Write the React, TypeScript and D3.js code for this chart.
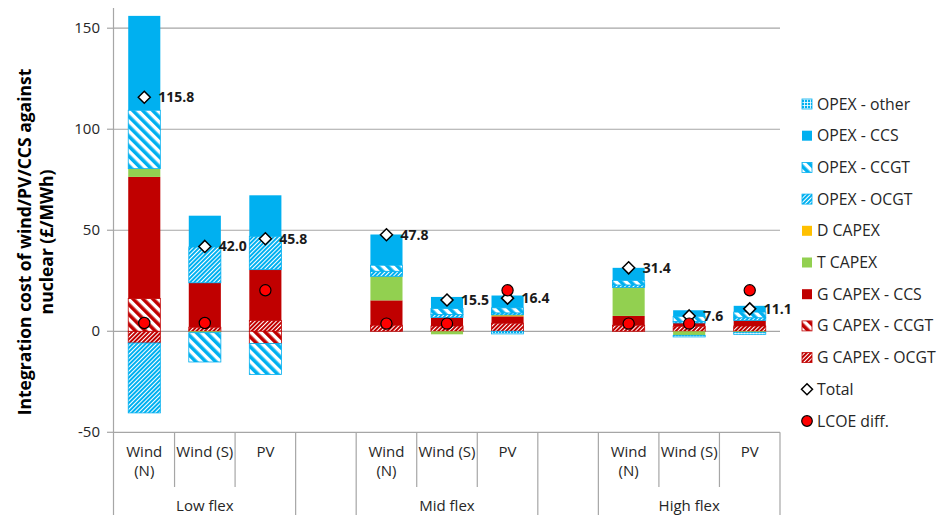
import React, { useMemo } from 'react';
import * as d3 from 'd3';

// slots: 3 groups of 3 bars with an empty slot between groups
const categories = ['Wind (N)', 'Wind (S)', 'PV', '', 'Wind (N)', 'Wind (S)', 'PV', '', 'Wind (N)', 'Wind (S)', 'PV'];
const groups = [
  { name: 'Low flex', from: 0, to: 2 },
  { name: '', from: 3, to: 3 },
  { name: 'Mid flex', from: 4, to: 6 },
  { name: '', from: 7, to: 7 },
  { name: 'High flex', from: 8, to: 10 },
];

// stacked series, bottom-up order
const gCapexOcgt = [-5.8, 2.0, 5.4, 0, 3.0, 2.6, 4.0, 0, 3.0, 2.5, 2.6];
const gCapexCcgt = [16.2, 0, -6.1, 0, 0, 0, 0, 0, 0, 0, 0];
const gCapexCcs = [60.2, 22.0, 25.1, 0, 12.3, 4.2, 3.4, 0, 4.6, 1.6, 2.8];
const tCapex = [4.1, -0.7, 0, 0, 11.9, -1.5, 0, 0, 13.8, -2.0, -0.5];
const dCapex = [0, 0, 0, 0, 0, 0, 0.7, 0, 0.3, 0, 0];
const opexOcgt = [-34.6, 17.7, 16.5, 0, 2.5, 1.5, 1.0, 0, 1.2, 0.8, 1.3];
const opexCcgt = [28.9, -14.5, -15.3, 0, 3.0, 3.0, 2.5, 0, 2.3, 2.5, 2.8];
const opexCcs = [46.7, 15.5, 20.3, 0, 15.2, 5.7, 6.1, 0, 6.2, 3.0, 3.1];
const opexOther = [0, 0, 0, 0, 0, 0, -1.3, 0, 0, -0.8, -1.0];

const totals = [115.8, 42.0, 45.8, null, 47.8, 15.5, 16.4, null, 31.4, 7.6, 11.1];
const lcoeDiff = [4.1, 4.1, 20.3, null, 3.8, 3.8, 20.3, null, 3.8, 3.8, 20.3];

const yTicks = [-50, 0, 50, 100, 150];

const BLUE = '#00B0F0';
const RED = '#C00000';
const GREEN = '#92D050';
const ORANGE = '#FFC000';
const TXT = '#262626';

const seriesDefs = [
  { key: 'G CAPEX - OCGT', values: gCapexOcgt, fill: 'url(#narrowRed)', color: RED },
  { key: 'G CAPEX - CCGT', values: gCapexCcgt, fill: 'url(#wideRed)', color: RED },
  { key: 'G CAPEX - CCS', values: gCapexCcs, fill: RED, color: RED },
  { key: 'T CAPEX', values: tCapex, fill: GREEN, color: GREEN },
  { key: 'D CAPEX', values: dCapex, fill: ORANGE, color: ORANGE },
  { key: 'OPEX - OCGT', values: opexOcgt, fill: 'url(#narrowBlue)', color: BLUE },
  { key: 'OPEX - CCGT', values: opexCcgt, fill: 'url(#wideBlue)', color: BLUE },
  { key: 'OPEX - CCS', values: opexCcs, fill: BLUE, color: BLUE },
  { key: 'OPEX - other', values: opexOther, fill: 'url(#gridBlue)', color: BLUE },
];

const W = 938;
const H = 515;
const left = 114;
const right = 780;
const FONT = '"Open Sans", sans-serif';

const App = () => {
  const x = d3.scaleBand<number>().domain(d3.range(categories.length)).range([left, right]).padding(0);
  const y = d3.scaleLinear().domain([-50, 160]).range([432.3, 8]);
  const bw = x.bandwidth() * 0.53;
  const cx = (i: number) => (x(i) as number) + x.bandwidth() / 2;

  const stacked = useMemo(() => {
    const rows = categories.map((_, i) => {
      const r: Record<string, number> = {};
      seriesDefs.forEach((s) => (r[s.key] = s.values[i]));
      return r;
    });
    return d3
      .stack<Record<string, number>>()
      .keys(seriesDefs.map((s) => s.key))
      .offset(d3.stackOffsetDiverging)(rows);
  }, []);

  const legendItems = [...seriesDefs].reverse();
  const legendY = (k: number) => 104 + k * 31.7;
  const diamond = (px: number, py: number, r: number) => `M${px},${py - r}L${px + r},${py}L${px},${py + r}L${px - r},${py}Z`;

  return (
    <svg width={W} height={H} style={{ position: 'absolute', left: 0, top: 0, background: '#fff' }}>
      <defs>
        <pattern id="wideBlue" patternUnits="userSpaceOnUse" width="7" height="7" patternTransform="rotate(-45)">
          <rect width="7" height="7" fill="#fff" />
          <rect width="3.6" height="7" fill={BLUE} />
        </pattern>
        <pattern id="narrowBlue" patternUnits="userSpaceOnUse" width="3" height="3" patternTransform="rotate(45)">
          <rect width="3" height="3" fill="#fff" />
          <rect width="2" height="3" fill={BLUE} />
        </pattern>
        <pattern id="wideRed" patternUnits="userSpaceOnUse" width="7" height="7" patternTransform="rotate(-45)">
          <rect width="7" height="7" fill="#fff" />
          <rect width="3.6" height="7" fill={RED} />
        </pattern>
        <pattern id="narrowRed" patternUnits="userSpaceOnUse" width="3" height="3" patternTransform="rotate(45)">
          <rect width="3" height="3" fill="#fff" />
          <rect width="2" height="3" fill={RED} />
        </pattern>
        <pattern id="gridBlue" patternUnits="userSpaceOnUse" width="3" height="3">
          <rect width="3" height="3" fill={BLUE} />
          <rect width="3" height="0.8" fill="#fff" />
          <rect width="0.8" height="3" fill="#fff" />
        </pattern>
      </defs>

      {/* gridlines */}
      {yTicks.map((t) => (
        <g key={t}>
          <line x1={left} x2={right} y1={y(t)} y2={y(t)} stroke="#A6A6A6" strokeWidth={1.2} />
          <line x1={107} x2={left} y1={y(t)} y2={y(t)} stroke="#A6A6A6" strokeWidth={1.2} />
          <text x={100} y={y(t) + 5} textAnchor="end" fontFamily={FONT} fontSize={15} fill={TXT}>
            {t}
          </text>
        </g>
      ))}
      <line x1={113.5} x2={113.5} y1={8} y2={H} stroke="#A6A6A6" strokeWidth={1.2} />

      {/* category axis */}
      {d3.range(1, categories.length + 1).map((i) => {
        const long = groups.some((g) => g.to === i - 1);
        const xx = i === categories.length ? right : (x(i) as number);
        return <line key={i} x1={xx} x2={xx} y1={y(-50)} y2={long ? H : 487} stroke="#A6A6A6" strokeWidth={1.2} />;
      })}
      {categories.map((c, i) => {
        const lines = c === 'Wind (N)' ? ['Wind', '(N)'] : [c];
        return lines.map((l, k) => (
          <text key={`${i}-${k}`} x={cx(i)} y={457 + k * 19} textAnchor="middle" fontFamily={FONT} fontSize={15} fill={TXT}>
            {l}
          </text>
        ));
      })}
      {groups.map((g, i) => (
        <text key={i} x={(cx(g.from) + cx(g.to)) / 2} y={511} textAnchor="middle" fontFamily={FONT} fontSize={15} fill={TXT}>
          {g.name}
        </text>
      ))}

      {/* bars */}
      {stacked.map((s, si) =>
        s.map((d, i) => {
          const h = Math.abs(y(d[0]) - y(d[1]));
          if (h < 0.01) return null;
          const def = seriesDefs[si];
          const hatched = def.fill.startsWith('url');
          return (
            <rect
              key={`${si}-${i}`}
              x={cx(i) - bw / 2}
              y={Math.min(y(d[0]), y(d[1]))}
              width={bw}
              height={h}
              fill={def.fill}
              stroke={hatched ? def.color : 'none'}
              strokeWidth={hatched ? 0.8 : 0}
            />
          );
        })
      )}

      {/* totals */}
      {totals.map((t, i) =>
        t == null ? null : (
          <g key={`t${i}`}>
            <path d={diamond(cx(i), y(t), 6)} fill="#fff" stroke="#000" strokeWidth={1.5} />
            <text x={cx(i) + 14} y={y(t) + 5} fontFamily={FONT} fontWeight={700} fontSize={14} fill="#1a1a1a">
              {t.toFixed(1)}
            </text>
          </g>
        )
      )}
      {lcoeDiff.map((v, i) =>
        v == null ? null : <circle key={`l${i}`} cx={cx(i)} cy={y(v)} r={5.6} fill="#FF0000" stroke="#000" strokeWidth={1.2} />
      )}

      {/* y axis title */}
      <g transform="translate(31,242) rotate(-90)">
        <text textAnchor="middle" fontFamily={FONT} fontWeight={700} fontSize={17.5} fill="#000">
          Integration cost of wind/PV/CCS against
        </text>
        <text y={22} textAnchor="middle" fontFamily={FONT} fontWeight={700} fontSize={17.5} fill="#000">
          nuclear (£/MWh)
        </text>
      </g>

      {/* legend */}
      {legendItems.map((s, k) => (
        <g key={s.key}>
          <rect x={802} y={legendY(k) - 5} width={10} height={10} fill={s.fill} stroke={s.fill.startsWith('url') ? s.color : 'none'} strokeWidth={0.8} />
          <text x={817} y={legendY(k) + 5.5} fontFamily={FONT} fontSize={15.8} fill={TXT}>
            {s.key}
          </text>
        </g>
      ))}
      <path d={diamond(807, legendY(9), 5.5)} fill="#fff" stroke="#000" strokeWidth={1.5} />
      <text x={817} y={legendY(9) + 5.5} fontFamily={FONT} fontSize={15.8} fill={TXT}>
        Total
      </text>
      <circle cx={807} cy={legendY(10)} r={5.3} fill="#FF0000" stroke="#000" strokeWidth={1.2} />
      <text x={817} y={legendY(10) + 5.5} fontFamily={FONT} fontSize={15.8} fill={TXT}>
        LCOE diff.
      </text>
    </svg>
  );
};

export default App;
